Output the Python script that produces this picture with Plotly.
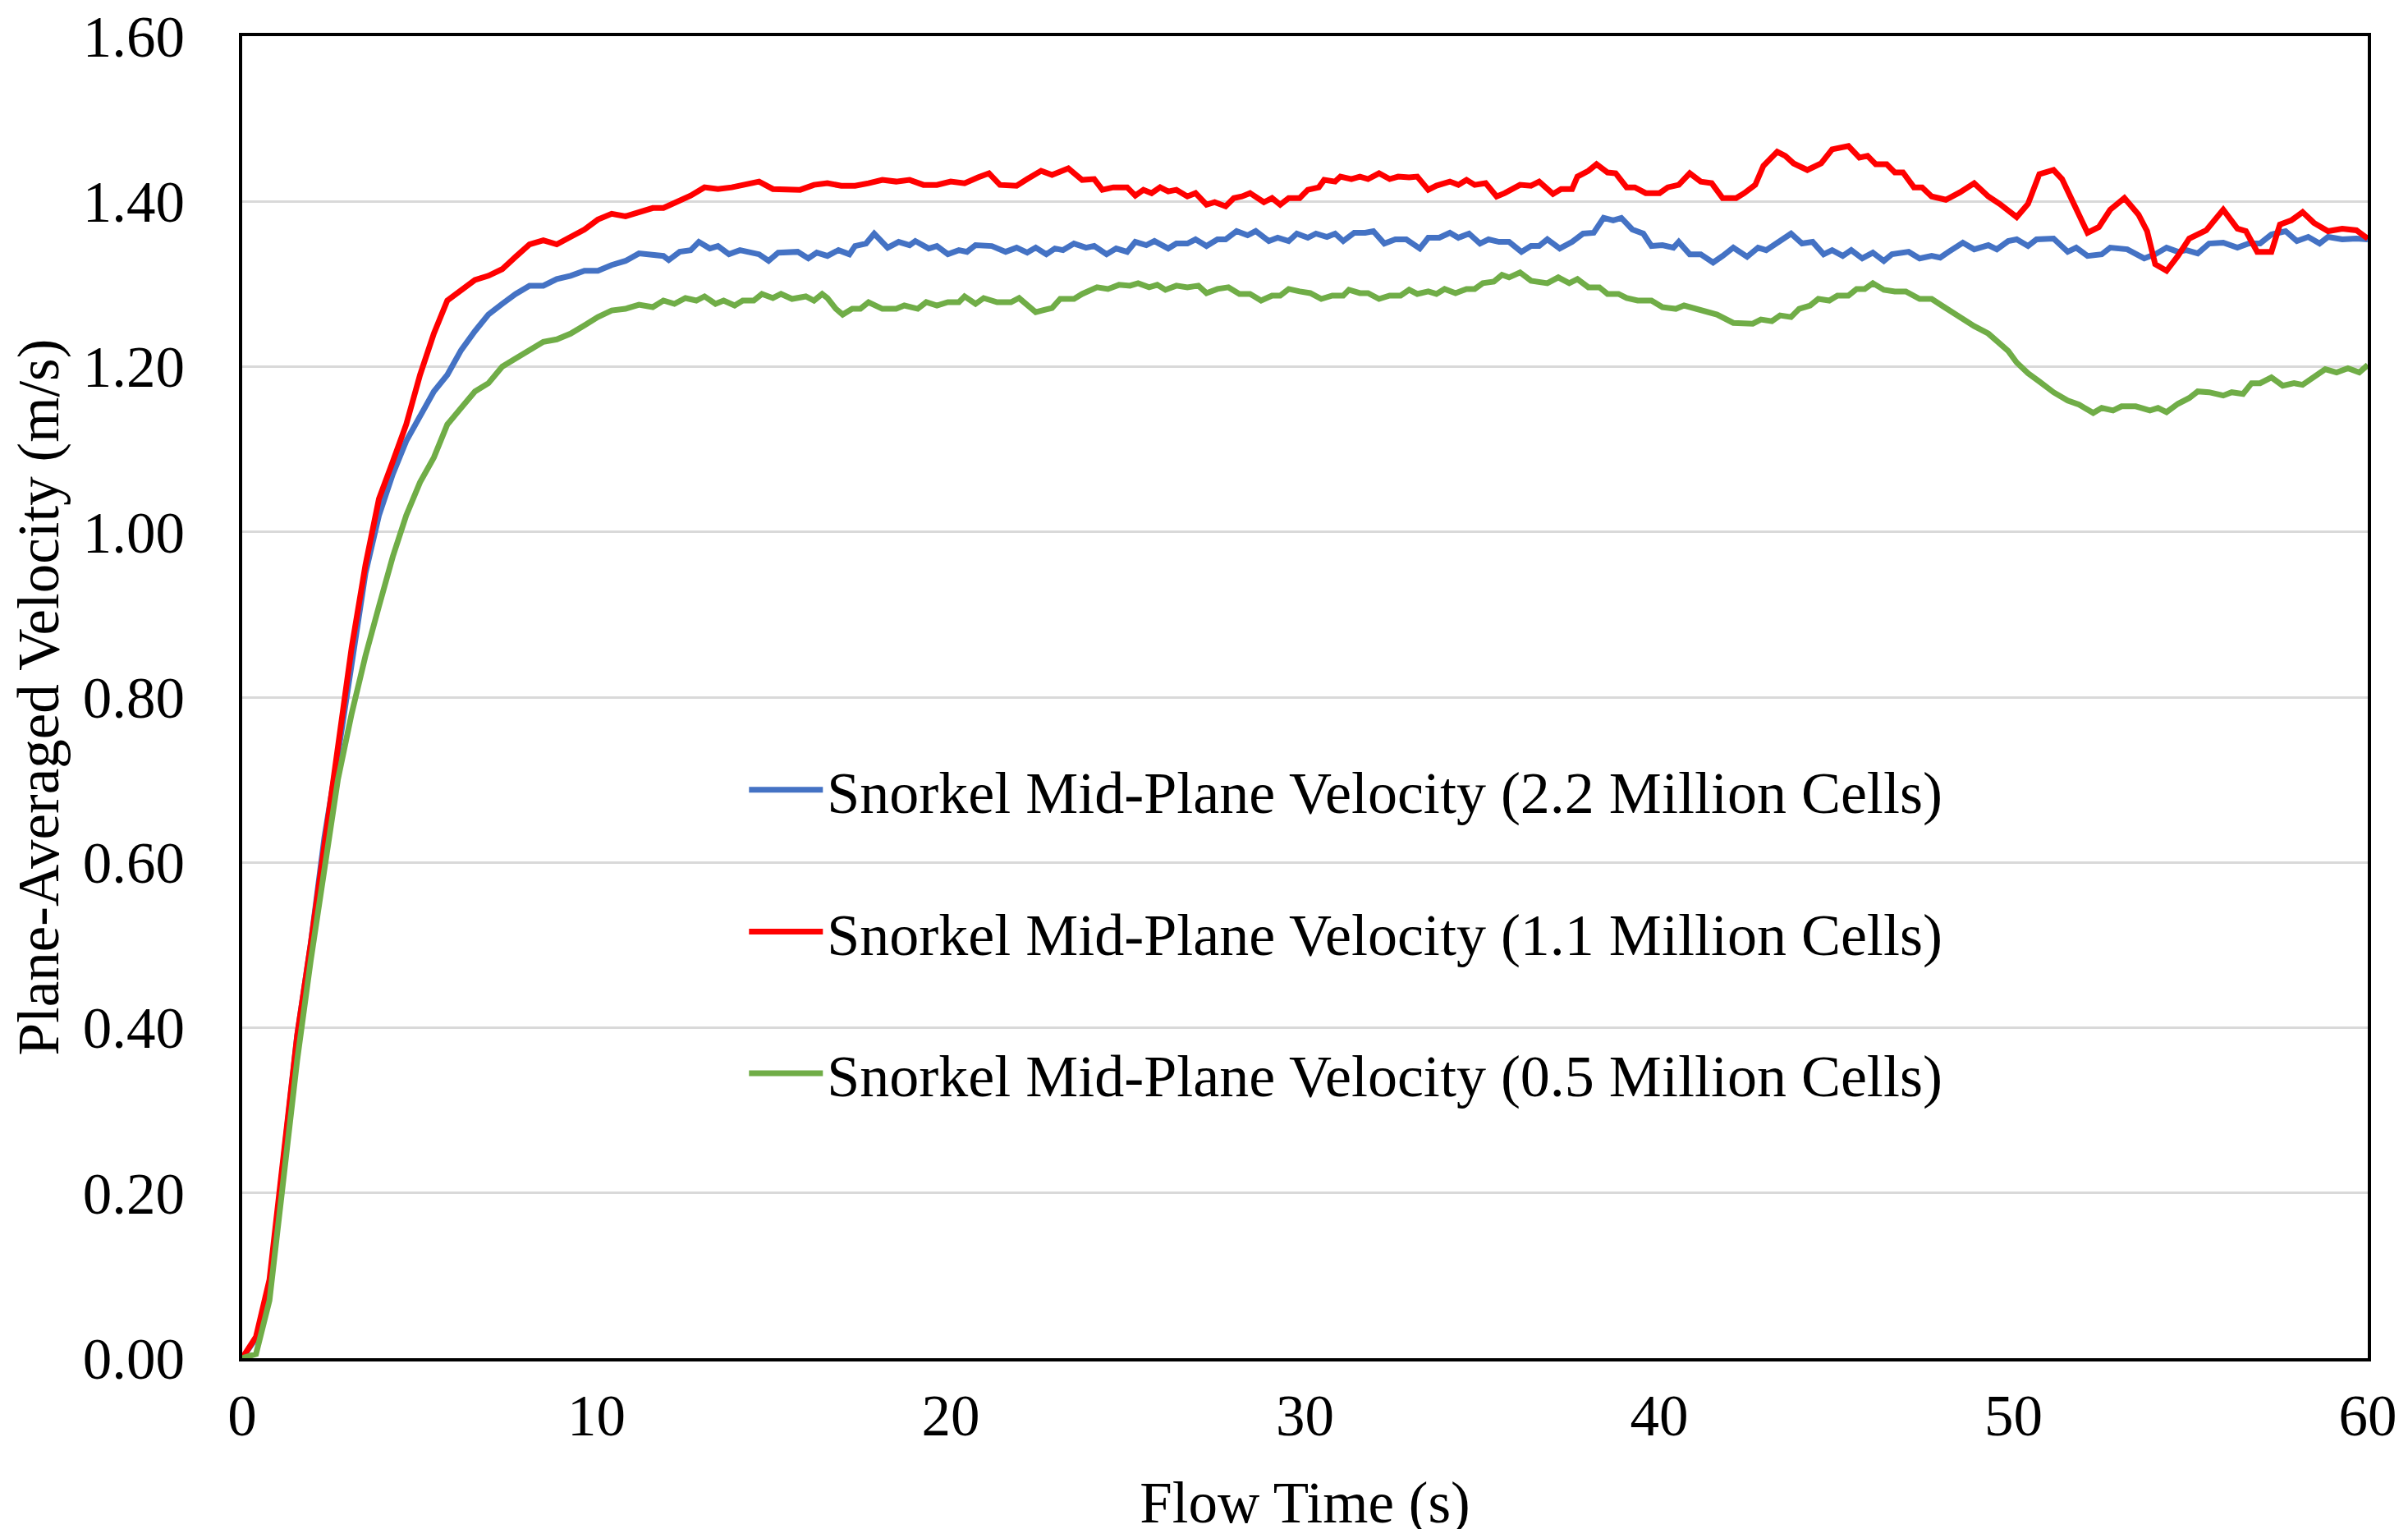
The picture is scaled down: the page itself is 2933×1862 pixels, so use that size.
import plotly.graph_objects as go

# ---------------- data ----------------
series_names = [
    "Snorkel Mid-Plane Velocity (2.2 Million Cells)",
    "Snorkel Mid-Plane Velocity (1.1 Million Cells)",
    "Snorkel Mid-Plane Velocity (0.5 Million Cells)",
]
series_colors = ["#4472C4", "#FF0000", "#70AD47"]

x_ticks = [0, 10, 20, 30, 40, 50, 60]
y_ticks = [0.0, 0.2, 0.4, 0.6, 0.8, 1.0, 1.2, 1.4, 1.6]

# 2.2 million cells (blue)
t_22m = [0, 0.39, 0.77, 1.16, 1.55, 1.93, 2.32, 2.70, 3.09, 3.48, 3.86, 4.25, 4.63, 5.02, 5.41, 5.79,
         6.18, 6.57, 6.95, 7.34, 7.72, 8.11, 8.50, 8.88, 9.27, 9.66, 10.04, 10.43, 10.82, 11.20, 11.59,
         11.89, 12.04, 12.35, 12.66, 12.89, 13.20, 13.43, 13.74, 14.05, 14.59, 14.86, 15.13, 15.68, 15.98,
         16.22, 16.52, 16.83, 17.14, 17.30, 17.61, 17.84, 18.22, 18.53, 18.84, 19.00, 19.38, 19.61, 19.92,
         20.23, 20.46, 20.70, 21.16, 21.55, 21.86, 22.16, 22.40, 22.70, 22.94, 23.17, 23.48,
         23.82, 24.05, 24.40, 24.67, 24.98, 25.21, 25.52, 25.75, 26.14, 26.37, 26.68, 26.91, 27.22, 27.53,
         27.76, 28.07, 28.38, 28.61, 28.98, 29.23, 29.54, 29.77, 30.08, 30.31, 30.62, 30.85, 31.08, 31.39,
         31.70, 31.93, 32.24, 32.55, 32.86, 33.24, 33.48, 33.79, 34.09, 34.33, 34.63, 34.94, 35.18, 35.48,
         35.76, 36.11, 36.38, 36.61, 36.84, 37.19, 37.54, 37.85, 38.15, 38.43, 38.70, 38.93, 39.24, 39.55,
         39.78, 40.09, 40.40, 40.55, 40.86, 41.17, 41.52, 41.79, 42.09, 42.48, 42.79, 43.02, 43.33, 43.72,
         44.03, 44.33, 44.64, 44.88, 45.18, 45.42, 45.73, 46.03, 46.34, 46.57, 47.04, 47.35,
         47.69, 47.93, 48.17, 48.57, 48.89, 49.29, 49.53, 49.85, 50.09, 50.41, 50.65, 51.13, 51.53, 51.77,
         52.09, 52.49, 52.73, 53.21, 53.69, 54.00, 54.32, 54.64, 54.88, 55.20, 55.52, 55.92, 56.32, 56.64,
         56.96, 57.28, 57.68, 58.00, 58.32, 58.64, 58.88, 59.28, 59.68, 60.00]
v_22m = [0, 0.024, 0.085, 0.235, 0.39, 0.50, 0.63, 0.73, 0.84, 0.95, 1.02, 1.07, 1.11, 1.14, 1.17, 1.19,
         1.22, 1.243, 1.263, 1.276, 1.288, 1.298, 1.298, 1.306, 1.31, 1.316, 1.316, 1.323, 1.328, 1.337, 1.335,
         1.334, 1.329, 1.339, 1.341, 1.351, 1.343, 1.346, 1.336, 1.341, 1.336, 1.328, 1.338, 1.339, 1.331,
         1.338, 1.334, 1.341, 1.336, 1.346, 1.349, 1.361, 1.344, 1.351, 1.347, 1.352, 1.343, 1.346, 1.336,
         1.341, 1.339, 1.347, 1.346, 1.339, 1.344, 1.338, 1.344, 1.336, 1.343, 1.341, 1.349,
         1.344, 1.346, 1.336, 1.343, 1.339, 1.351, 1.347, 1.352, 1.343, 1.349, 1.349, 1.354, 1.346, 1.354,
         1.354, 1.364, 1.359, 1.364, 1.352, 1.356, 1.352, 1.361, 1.356, 1.361, 1.357, 1.361, 1.352, 1.362,
         1.362, 1.364, 1.349, 1.354, 1.354, 1.343, 1.356, 1.356, 1.362, 1.356, 1.361, 1.349, 1.354, 1.351,
         1.351, 1.339, 1.346, 1.346, 1.354, 1.343, 1.351, 1.361, 1.362, 1.380, 1.377, 1.380, 1.366, 1.361,
         1.346, 1.347, 1.344, 1.351, 1.336, 1.336, 1.326, 1.334, 1.344, 1.333, 1.344, 1.341, 1.349, 1.361,
         1.349, 1.351, 1.336, 1.341, 1.334, 1.341, 1.331, 1.338, 1.328, 1.336, 1.339, 1.331,
         1.334, 1.332, 1.339, 1.350, 1.342, 1.347, 1.342, 1.352, 1.354, 1.346, 1.354, 1.355, 1.339, 1.344,
         1.334, 1.336, 1.344, 1.342, 1.331, 1.336, 1.344, 1.339, 1.341, 1.337, 1.349, 1.350, 1.344, 1.349,
         1.349, 1.360, 1.364, 1.352, 1.357, 1.349, 1.357, 1.354, 1.355, 1.354]

# 1.1 million cells (red)
t_11m = [0, 0.39, 0.77, 1.16, 1.55, 1.93, 2.32, 2.70, 3.09, 3.48, 3.86, 4.25, 4.63, 5.02, 5.41, 5.79,
         6.18, 6.57, 6.95, 7.34, 7.72, 8.11, 8.50, 8.88, 9.27, 9.66, 10.04, 10.43, 10.82, 11.20, 11.59,
         11.89, 12.28, 12.66, 13.05, 13.43, 13.82, 14.21, 14.59, 14.98, 15.37, 15.75, 16.14, 16.52, 16.91,
         17.30, 17.68, 18.07, 18.46, 18.84, 19.23, 19.61, 20.00, 20.39, 20.77, 21.08, 21.39, 21.86, 22.16,
         22.55, 22.86, 23.32, 23.71,
         24.05, 24.28, 24.59, 24.98, 25.21, 25.44, 25.67, 25.91, 26.14, 26.37, 26.68, 26.91, 27.22, 27.45,
         27.76, 27.99, 28.22, 28.45, 28.84, 29.07, 29.30, 29.54, 29.85, 30.08, 30.39, 30.54, 30.85, 31.00,
         31.31, 31.55, 31.78, 32.09, 32.39, 32.63, 32.94, 33.17, 33.48, 33.71, 34.09, 34.33, 34.56, 34.79,
         35.10, 35.41, 35.64,
         36.07, 36.38, 36.61, 37.00, 37.23, 37.54, 37.69, 38.00, 38.23, 38.54, 38.77, 39.08, 39.31, 39.62,
         40.01, 40.24, 40.55, 40.86, 41.17, 41.48, 41.79, 42.17, 42.40, 42.71, 42.94, 43.33, 43.56, 43.79,
         44.18, 44.57, 44.88, 45.34, 45.65, 45.88, 46.11, 46.42, 46.65, 46.88, 47.19, 47.42,
         47.69, 48.09, 48.49, 48.89, 49.29, 49.61, 50.09, 50.41, 50.73, 51.13, 51.37, 51.69, 52.09, 52.41,
         52.73, 53.13, 53.53, 53.77, 54.00, 54.32, 54.64, 54.96, 55.44, 55.92, 56.32, 56.56, 56.88, 57.28,
         57.52, 57.84, 58.16, 58.48, 58.88, 59.28, 59.68, 60.00]
v_11m = [0, 0.026, 0.095, 0.245, 0.39, 0.50, 0.62, 0.74, 0.86, 0.96, 1.04, 1.085, 1.13, 1.19, 1.24, 1.28,
         1.293, 1.305, 1.31, 1.318, 1.333, 1.348, 1.353, 1.348, 1.357, 1.366, 1.378, 1.385, 1.382, 1.387, 1.392,
         1.392, 1.399, 1.407, 1.417, 1.415, 1.417, 1.420, 1.424, 1.415, 1.415, 1.414, 1.420, 1.422, 1.419,
         1.419, 1.422, 1.426, 1.424, 1.426, 1.420, 1.420, 1.424, 1.422, 1.429, 1.434, 1.420, 1.419, 1.427,
         1.437, 1.432, 1.440, 1.426,
         1.427, 1.414, 1.417, 1.417, 1.407, 1.414, 1.410, 1.417, 1.412, 1.414, 1.406, 1.410, 1.396, 1.399,
         1.394, 1.404, 1.406, 1.410, 1.399, 1.404, 1.396, 1.404, 1.404, 1.414, 1.417, 1.426, 1.424, 1.430,
         1.427, 1.430, 1.427, 1.434, 1.427, 1.430, 1.429, 1.430, 1.414, 1.419, 1.424, 1.420, 1.426, 1.420,
         1.422, 1.406, 1.410,
         1.420, 1.419, 1.424, 1.409, 1.415, 1.415, 1.430, 1.437, 1.445, 1.435, 1.434, 1.417, 1.417, 1.410,
         1.410, 1.417, 1.420, 1.434, 1.424, 1.422, 1.404, 1.404, 1.410, 1.420, 1.443, 1.460, 1.455, 1.446,
         1.438, 1.446, 1.463, 1.467, 1.453, 1.455, 1.445, 1.445, 1.435, 1.435, 1.417, 1.417,
         1.406, 1.402, 1.411, 1.422, 1.406, 1.397, 1.381, 1.397, 1.433, 1.438, 1.427, 1.397, 1.362, 1.369,
         1.390, 1.404, 1.384, 1.364, 1.324, 1.316, 1.334, 1.355, 1.365, 1.390, 1.367, 1.364, 1.339, 1.339,
         1.372, 1.377, 1.387, 1.374, 1.364, 1.367, 1.365, 1.355]

# 0.5 million cells (green)
t_05m = [0, 0.39, 0.77, 1.16, 1.55, 1.93, 2.32, 2.70, 3.09, 3.48, 3.86, 4.25, 4.63, 5.02, 5.41, 5.79,
         6.18, 6.57, 6.95, 7.34, 7.72, 8.11, 8.50, 8.88, 9.27, 9.66, 10.04, 10.43, 10.82, 11.20, 11.59,
         11.89, 12.20, 12.51, 12.82, 13.05, 13.36, 13.59, 13.90, 14.13, 14.44, 14.67, 14.98, 15.21, 15.52,
         15.91, 16.14, 16.37, 16.52, 16.76, 16.95, 17.22, 17.45, 17.68, 18.07, 18.46, 18.69, 19.07, 19.31,
         19.61, 19.92, 20.23, 20.39, 20.70, 20.93, 21.31, 21.70, 21.93, 22.40, 22.86, 23.09, 23.48, 23.71,
         24.13, 24.44, 24.75, 25.06, 25.29, 25.60, 25.83, 26.06, 26.37, 26.68, 26.99, 27.22, 27.53, 27.84,
         28.15, 28.45, 28.76, 29.07, 29.30, 29.54, 29.85, 30.15, 30.46, 30.77, 31.08, 31.24, 31.55, 31.78,
         32.09, 32.39, 32.70, 32.94, 33.17, 33.48, 33.71, 33.94, 34.25, 34.56, 34.79, 35.02, 35.33, 35.56,
         35.76, 36.07, 36.38, 36.84, 37.15, 37.46, 37.69, 38.00, 38.31, 38.54, 38.85, 39.08, 39.39, 39.78,
         40.09, 40.47, 40.70, 41.17, 41.63, 42.09, 42.64, 42.87, 43.18, 43.41, 43.72, 43.95, 44.26, 44.49,
         44.80, 45.03, 45.34, 45.57, 45.80, 46.03, 46.34, 46.65, 46.96, 47.35,
         47.69, 48.01, 48.49, 48.89, 49.29, 49.61, 49.85, 50.09, 50.41, 50.73, 51.13, 51.53, 51.85, 52.25,
         52.49, 52.81, 53.05, 53.45, 53.85, 54.08, 54.32, 54.64, 54.96, 55.20, 55.52, 55.92, 56.16, 56.48,
         56.72, 56.96, 57.28, 57.60, 57.92, 58.16, 58.48, 58.80, 59.12, 59.44, 59.76, 60.00]
v_05m = [0, 0.005, 0.07, 0.21, 0.36, 0.48, 0.59, 0.70, 0.78, 0.85, 0.91, 0.97, 1.02, 1.06, 1.09, 1.13,
         1.15, 1.17, 1.18, 1.20, 1.21, 1.22, 1.23, 1.233, 1.24, 1.25, 1.26, 1.268, 1.27, 1.275, 1.272,
         1.280, 1.276, 1.283, 1.280, 1.285, 1.276, 1.280, 1.274, 1.280, 1.280, 1.288, 1.283, 1.288, 1.282,
         1.285, 1.280, 1.288, 1.283, 1.270, 1.263, 1.270, 1.270, 1.278, 1.270, 1.270, 1.274, 1.270, 1.278,
         1.274, 1.278, 1.278, 1.285, 1.276, 1.283, 1.278, 1.278, 1.283, 1.266, 1.271, 1.282, 1.282, 1.288,
         1.296, 1.294, 1.299, 1.298, 1.301, 1.296, 1.299, 1.293, 1.298, 1.296, 1.298, 1.289, 1.294, 1.296,
         1.288, 1.288, 1.280, 1.286, 1.286, 1.294, 1.291, 1.289, 1.282, 1.286, 1.286, 1.293, 1.289, 1.289,
         1.282, 1.286, 1.286, 1.293, 1.288, 1.291, 1.288, 1.294, 1.289, 1.294, 1.294, 1.301, 1.303, 1.311,
         1.308, 1.314, 1.304, 1.301, 1.308, 1.301, 1.306, 1.296, 1.296, 1.288, 1.288, 1.283, 1.280, 1.280,
         1.272, 1.270, 1.274, 1.268, 1.263, 1.253, 1.252, 1.257, 1.255, 1.262, 1.260, 1.270, 1.274, 1.282,
         1.280, 1.286, 1.286, 1.294, 1.294, 1.301, 1.293, 1.291, 1.291, 1.282,
         1.282, 1.273, 1.259, 1.249, 1.240, 1.227, 1.219, 1.205, 1.192, 1.182, 1.169, 1.159, 1.154, 1.144,
         1.150, 1.147, 1.152, 1.152, 1.147, 1.150, 1.145, 1.155, 1.162, 1.170, 1.169, 1.165, 1.169, 1.167,
         1.180, 1.180, 1.187, 1.177, 1.180, 1.178, 1.187, 1.197, 1.193, 1.198, 1.193, 1.202]

x_title = "Flow Time (s)"
y_title = "Plane-Averaged Velocity (m/s)"

# ---------------- figure ----------------
FONT = "Liberation Serif, Times New Roman, serif"
fig = go.Figure()
for name, color, tt, vv in zip(series_names, series_colors,
                               [t_22m, t_11m, t_05m], [v_22m, v_11m, v_05m]):
    fig.add_trace(go.Scatter(
        x=tt, y=vv, mode="lines", name=name, legendgroup=name,
        line=dict(color=color, width=7),
    ))

fig.update_layout(
    width=2933, height=1862,
    margin=dict(l=287, r=57, t=36, b=216),
    paper_bgcolor="white", plot_bgcolor="white",
    font=dict(family=FONT, size=71, color="black"),
    showlegend=True,
    legend=dict(
        x=0.2365, y=0.463, xanchor="left", yanchor="top",
        bgcolor="rgba(0,0,0,0)", borderwidth=0,
        font=dict(family=FONT, size=72, color="black"),
        traceorder="grouped", tracegroupgap=76, itemwidth=90,
    ),
    xaxis=dict(
        range=[0, 60], tickvals=x_ticks, ticktext=[str(v) for v in x_ticks],
        showgrid=False, zeroline=False,
        showline=True, linecolor="black", linewidth=3.5, mirror=True,
        ticks="", ticklabelstandoff=5, ticklabeloverflow="allow",
        tickfont=dict(family=FONT, size=71, color="black"),
        title=dict(text=x_title, font=dict(family=FONT, size=71, color="black"), standoff=53),
        automargin=False,
    ),
    yaxis=dict(
        range=[0, 1.6], tickvals=y_ticks, ticktext=[f"{v:.2f}" for v in y_ticks],
        showgrid=True, gridcolor="#D9D9D9", gridwidth=3, zeroline=False,
        showline=True, linecolor="black", linewidth=3.5, mirror=True,
        ticks="", ticklabelstandoff=52, ticklabeloverflow="allow",
        tickfont=dict(family=FONT, size=71, color="black"),
        title=dict(text=y_title, font=dict(family=FONT, size=71, color="black"), standoff=14),
        automargin=False,
    ),
)

fig.write_html("out.html")
